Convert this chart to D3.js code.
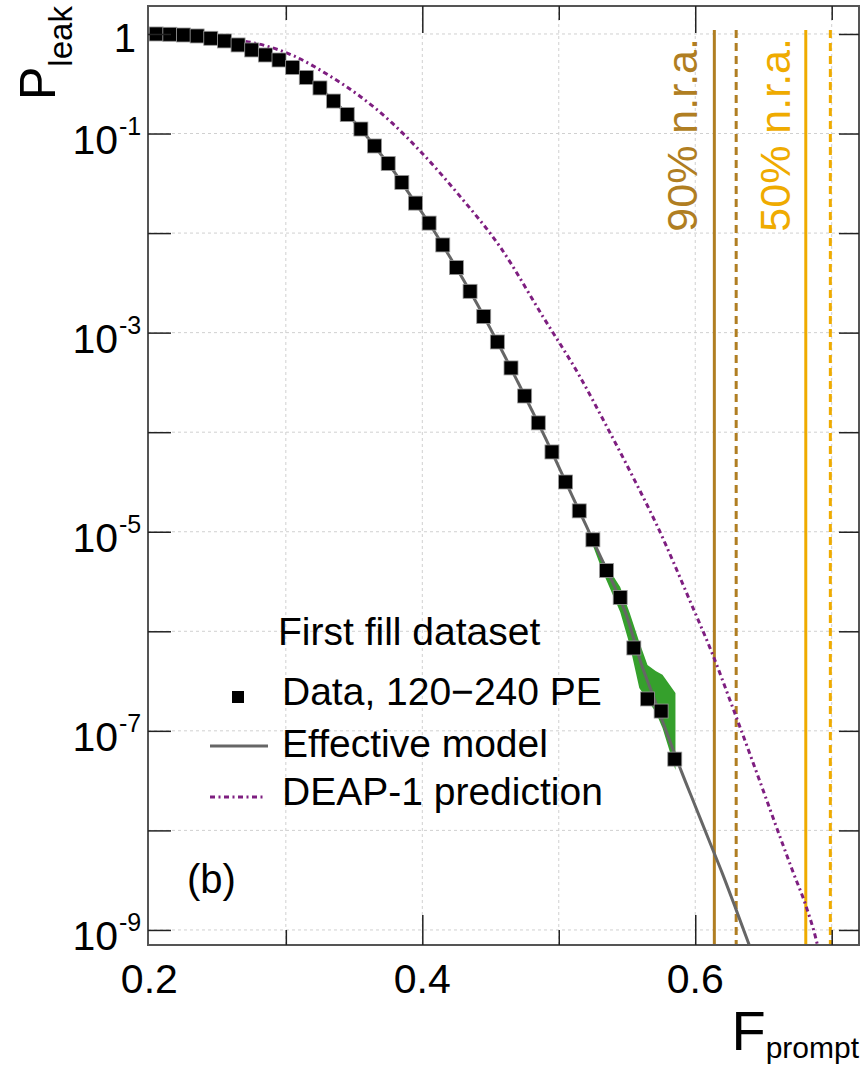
<!DOCTYPE html>
<html>
<head>
<meta charset="utf-8">
<script src="https://cdnjs.cloudflare.com/ajax/libs/d3/7.8.5/d3.min.js"></script>
<style>
  body { margin: 0; background: #fff; }
  text { font-family: "Liberation Sans", Arial, Helvetica, sans-serif; }
</style>
</head>
<body>
<svg id="chart" width="863" height="1067"></svg>
<script>
// data points, 120-240 PE
const dataX = [0.205, 0.215, 0.225, 0.235, 0.245, 0.255, 0.265, 0.275, 0.285, 0.295,
               0.305, 0.315, 0.325, 0.335, 0.345, 0.355, 0.365, 0.375, 0.385, 0.395,
               0.405, 0.415, 0.425, 0.435, 0.445, 0.455, 0.465, 0.475, 0.485, 0.495,
               0.505, 0.515, 0.525, 0.535, 0.545, 0.555, 0.565, 0.575, 0.585];
const dataP = [1.0, 0.993, 0.977, 0.955, 0.905, 0.851, 0.776, 0.691, 0.615, 0.548,
               0.461, 0.366, 0.287, 0.212, 0.155, 0.111, 0.075, 0.050, 0.0323, 0.0200,
               0.0126, 0.0076, 0.0045, 0.0026, 0.00145, 8.06e-4, 4.42e-4, 2.31e-4, 1.24e-4, 6.33e-5,
               3.16e-5, 1.62e-5, 8.3e-6, 4.08e-6, 2.19e-6, 6.8e-7, 2.09e-7, 1.58e-7, 5.2e-8];

// effective model
const modelX = [0.20, 0.21, 0.22, 0.23, 0.24, 0.25, 0.26, 0.27, 0.28, 0.29,
                0.30, 0.31, 0.32, 0.33, 0.34, 0.35, 0.36, 0.37, 0.38, 0.39,
                0.40, 0.41, 0.42, 0.43, 0.44, 0.45, 0.46, 0.47, 0.48, 0.49,
                0.50, 0.51, 0.52, 0.53, 0.54, 0.55, 0.56, 0.57, 0.58, 0.59,
                0.60, 0.61, 0.62, 0.63, 0.64];
const modelP = [1.0, 0.993, 0.982, 0.964, 0.929, 0.879, 0.812, 0.733, 0.652, 0.574,
                0.500, 0.410, 0.326, 0.247, 0.183, 0.132, 0.0912, 0.0610, 0.0402, 0.0253,
                0.0159, 0.0098, 0.00582, 0.00342, 0.00196, 0.00109, 5.96e-4, 3.19e-4, 1.69e-4, 8.85e-5,
                4.48e-5, 2.26e-5, 1.16e-5, 5.85e-6, 2.99e-6, 1.39e-6, 4.92e-7, 2.09e-7, 8.9e-8, 3.87e-8,
                1.76e-8, 8.0e-9, 3.66e-9, 1.59e-9, 6.8e-10];

// DEAP-1 prediction
const deapX = [0.199, 0.238, 0.280, 0.306, 0.331, 0.355, 0.377, 0.399, 0.428, 0.457,
               0.4885, 0.5156, 0.5353, 0.5543, 0.5718, 0.5974, 0.612, 0.6273, 0.647, 0.6595,
               0.6711, 0.6814, 0.6887, 0.692];
const deapP = [1.0, 0.933, 0.794, 0.601, 0.388, 0.233, 0.131, 0.0653, 0.0231, 0.00726,
               0.00144, 3.59e-4, 1.13e-4, 3.56e-5, 1.17e-5, 1.84e-6, 6.2e-7, 1.74e-7, 3.21e-8, 1.08e-8,
               4.0e-9, 1.7e-9, 7.9e-10, 5e-10];

// green uncertainty band
const bandX  = [0.521, 0.532, 0.545, 0.552, 0.559, 0.565, 0.571, 0.576, 0.5855];
const bandHi = [1.09e-5, 5.33e-6, 2.79e-6, 1.53e-6, 7.82e-7, 4.59e-7, 4.0e-7, 3.65e-7, 2.40e-7];
const bandLo = [1.02e-5, 4.04e-6, 1.56e-6, 7.29e-7, 2.70e-7, 2.04e-7, 1.55e-7, 1.07e-7, 4.05e-8];

// nuclear recoil acceptance cuts: 90% solid, 90% dashed, 50% solid, 50% dashed
const nraX = [0.614, 0.630, 0.681, 0.699];
const nraLabels = ["90% n.r.a.", "50% n.r.a."];

const xMajor = [0.2, 0.4, 0.6];
const xMinor = [0.3, 0.5, 0.7];
const yDecades = [1, 1e-1, 1e-2, 1e-3, 1e-4, 1e-5, 1e-6, 1e-7, 1e-8, 1e-9];
const yLabelExp = [0, -1, -3, -5, -7, -9];

const legendItems = ["Data, 120\u2212240 PE", "Effective model", "DEAP-1 prediction"];

const svg = d3.select("#chart");
const pLeft = 148, pRight = 859, pTop = 6, pBottom = 945;

const x = d3.scaleLinear().domain([0.199, 0.72]).range([pLeft, pRight]);
const y = d3.scaleLog().domain([7.06e-10, 1.91]).range([pBottom, pTop]);

const brown = "#b07e22", gold = "#efab00", purple = "#7e1e80";
const deapDash = "5,3.5,2,3.5";

svg.append("defs").append("clipPath").attr("id", "plot")
    .append("rect").attr("x", pLeft).attr("y", pTop)
    .attr("width", pRight - pLeft).attr("height", pBottom - pTop);

// grid
const grid = svg.append("g").attr("stroke", "#d0d0d0").attr("stroke-width", 1)
    .attr("stroke-dasharray", "3,3");
grid.selectAll(".gx").data(xMajor.concat(xMinor).filter(d => d > 0.25))
    .enter().append("line")
    .attr("x1", d => x(d)).attr("x2", d => x(d))
    .attr("y1", pTop).attr("y2", pBottom);
grid.selectAll(".gy").data(yDecades)
    .enter().append("line")
    .attr("x1", pLeft).attr("x2", pRight)
    .attr("y1", d => y(d)).attr("y2", d => y(d));

const plot = svg.append("g").attr("clip-path", "url(#plot)");

// band
const band = bandX.map((v, i) => ({ x: v, lo: bandLo[i], hi: bandHi[i] }));
plot.append("path")
    .datum(band)
    .attr("fill", "#35a02c")
    .attr("d", d3.area()
        .x(d => x(d.x))
        .y0(d => y(d.lo))
        .y1(d => y(d.hi))
        .curve(d3.curveLinear));

// vertical n.r.a. lines
const nraColor = [brown, brown, gold, gold];
const nraDash = [null, "8,5", null, "8,5"];
plot.selectAll(".nra").data(nraX).enter().append("line")
    .attr("x1", d => x(d)).attr("x2", d => x(d))
    .attr("y1", 30).attr("y2", pBottom)
    .attr("stroke", (d, i) => nraColor[i])
    .attr("stroke-width", 3)
    .attr("stroke-dasharray", (d, i) => nraDash[i]);

// DEAP-1 curve
const deap = deapX.map((v, i) => ({ x: v, p: deapP[i] }));
plot.append("path")
    .datum(deap)
    .attr("fill", "none")
    .attr("stroke", purple)
    .attr("stroke-width", 3)
    .attr("stroke-dasharray", deapDash)
    .attr("d", d3.line().x(d => x(d.x)).y(d => y(d.p)).curve(d3.curveMonotoneX));

// effective model
const model = modelX.map((v, i) => ({ x: v, p: modelP[i] }));
plot.append("path")
    .datum(model)
    .attr("fill", "none")
    .attr("stroke", "#666")
    .attr("stroke-width", 3)
    .attr("d", d3.line().x(d => x(d.x)).y(d => y(d.p)).curve(d3.curveMonotoneX));

// data squares
const sq = 14;
plot.selectAll(".pt").data(dataX).enter().append("rect")
    .attr("x", d => x(d) - sq / 2)
    .attr("y", (d, i) => y(dataP[i]) - sq / 2)
    .attr("width", sq).attr("height", sq)
    .attr("fill", "#000")
    .attr("stroke", "#999").attr("stroke-width", 0.8);

// n.r.a. labels
svg.selectAll(".nraLabel").data(nraLabels).enter().append("text")
    .attr("transform", (d, i) => `translate(${i === 0 ? 697 : 790},38) rotate(-90)`)
    .attr("text-anchor", "end")
    .attr("font-size", 43)
    .attr("fill", (d, i) => i === 0 ? brown : gold)
    .text(d => d);

// frame
svg.append("rect")
    .attr("x", pLeft).attr("y", pTop)
    .attr("width", pRight - pLeft).attr("height", pBottom - pTop)
    .attr("fill", "none").attr("stroke", "#555").attr("stroke-width", 2);

// ticks
function ticks(axis, tr) {
    const g = svg.append("g").attr("transform", tr).call(axis);
    g.select(".domain").remove();
    g.selectAll("line").attr("stroke", "#222").attr("stroke-width", 1.5);
    return g;
}
ticks(d3.axisBottom(x).tickValues(xMajor.filter(d => d > 0.25)).tickSize(-30).tickFormat(""), `translate(0,${pBottom})`);
ticks(d3.axisBottom(x).tickValues(xMinor).tickSize(-15).tickFormat(""), `translate(0,${pBottom})`);
ticks(d3.axisTop(x).tickValues(xMajor.filter(d => d > 0.25)).tickSize(-27).tickFormat(""), `translate(0,${pTop})`);
ticks(d3.axisTop(x).tickValues(xMinor).tickSize(-14).tickFormat(""), `translate(0,${pTop})`);
ticks(d3.axisLeft(y).tickValues(yDecades).tickSize(-23).tickFormat(""), `translate(${pLeft},0)`);
ticks(d3.axisRight(y).tickValues(yDecades).tickSize(-20).tickFormat(""), `translate(${pRight},0)`);

// x tick labels
svg.selectAll(".xl").data(xMajor).enter().append("text")
    .attr("x", d => x(d)).attr("y", 993)
    .attr("text-anchor", "middle").attr("font-size", 41)
    .text(d => d.toFixed(1));

// y tick labels
yLabelExp.forEach(e => {
    const py = y(Math.pow(10, e));
    if (e === 0) {
        svg.append("text").attr("x", 136).attr("y", py + 18)
            .attr("text-anchor", "end").attr("font-size", 40).text("1");
    } else {
        svg.append("text").attr("x", 118).attr("y", py + 20)
            .attr("text-anchor", "end").attr("font-size", 41).text("10");
        svg.append("text").attr("x", 119).attr("y", py + 1)
            .attr("font-size", 25).text("-" + Math.abs(e));
    }
});

// axis titles
const yt = svg.append("text")
    .attr("transform", "translate(55,100) rotate(-90)")
    .attr("font-size", 50);
yt.append("tspan").text("P");
yt.append("tspan").attr("dy", 17).attr("font-size", 33).text("leak");

const xt = svg.append("text").attr("x", 859).attr("y", 1050)
    .attr("text-anchor", "end").attr("font-size", 56);
xt.append("tspan").text("F");
xt.append("tspan").attr("dy", 8).attr("font-size", 30).text("prompt");

// legend
svg.append("text").attr("x", 278).attr("y", 645).attr("font-size", 39).text("First fill dataset");
const legY = [705, 757, 805];
svg.selectAll(".lg").data(legendItems).enter().append("text")
    .attr("x", 282).attr("y", (d, i) => legY[i])
    .attr("font-size", 39).text(d => d);
svg.append("rect").attr("x", 232).attr("y", 691).attr("width", 12).attr("height", 12).attr("fill", "#000");
svg.append("line").attr("x1", 210).attr("x2", 268).attr("y1", 746).attr("y2", 746)
    .attr("stroke", "#666").attr("stroke-width", 3);
svg.append("line").attr("x1", 210).attr("x2", 266).attr("y1", 797).attr("y2", 797)
    .attr("stroke", purple).attr("stroke-width", 3).attr("stroke-dasharray", deapDash);

svg.append("text").attr("x", 187).attr("y", 893).attr("font-size", 40).text("(b)");
</script>
</body>
</html>
